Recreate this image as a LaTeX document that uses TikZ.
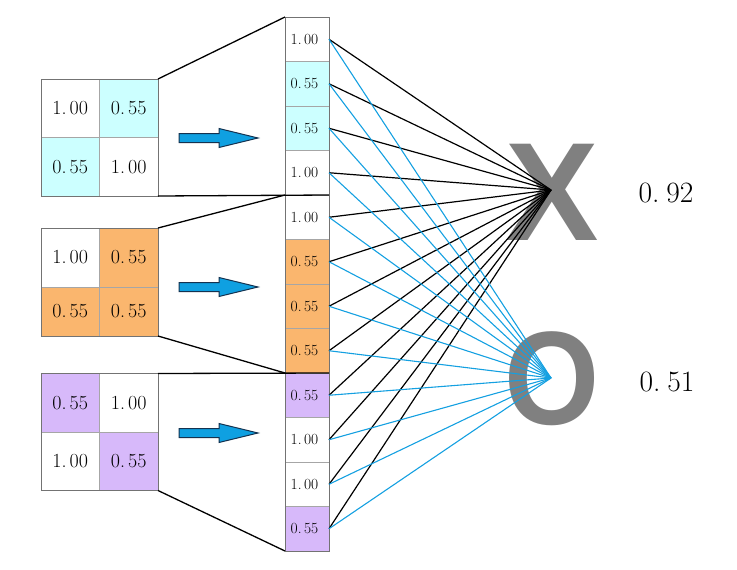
\documentclass[tikz,border=0pt]{standalone}
\usepackage{fontspec}
\newfontfamily\letterfont{Liberation Sans}
\definecolor{cyanc}{RGB}{204,255,255}
\definecolor{orangec}{RGB}{250,182,110}
\definecolor{purplec}{RGB}{215,185,250}
\definecolor{lineblue}{RGB}{20,160,225}
\definecolor{arrowblue}{RGB}{15,160,225}
\definecolor{arrowedge}{RGB}{20,50,80}
\definecolor{lettergray}{RGB}{128,128,128}
\begin{document}
\begin{tikzpicture}[x=1pt,y=-1pt,
  mcell/.style={draw=gray!70, inner sep=0pt, outer sep=0pt, minimum width=58.5pt, minimum height=58.5pt, font=\fontsize{20}{20}\selectfont},
  ccell/.style={draw=gray!70, inner sep=0pt, outer sep=0pt, minimum width=44pt, minimum height=44.5pt, font=\fontsize{15.5}{15.5}\selectfont},
  frame/.style={draw=gray!90!black, line width=0.8pt},
  trap/.style={draw=black, line width=1.3pt},
  blk/.style={draw=black, line width=1.2pt},
  blu/.style={draw=lineblue, line width=1.1pt},
  barrow/.style={fill=arrowblue, draw=arrowedge, line width=1pt, line join=miter},
  letter/.style={text=lettergray, inner sep=0pt, outer sep=0pt, font=\letterfont\bfseries\fontsize{140}{140}\selectfont},
  outlbl/.style={inner sep=0pt, font=\fontsize{29.5}{29.5}\selectfont}
]
\useasboundingbox (0,0) rectangle (737,570);
\newcommand\one{1.\kern3pt00}
\newcommand\ff{0.\kern3pt55}
\newcommand\sone{\kern-5pt1.\kern2.5pt00}
\newcommand\sff{\kern-5pt0.\kern2.5pt55}

% letters
\node[letter] (X) at (552,192) {X};
\node[letter, font=\letterfont\bfseries\fontsize{133}{133}\selectfont] (O) at (552,379) {\scalebox{0.92}[1]{O}};
\coordinate (xc) at (551,190);
\coordinate (oc) at (551,378);

% top matrix
\node[mcell] (m1a) at (70.25,108.25) {\one};
\node[mcell, fill=cyanc] (m1b) at (128.75,108.25) {\ff};
\node[mcell, fill=cyanc] (m1c) at (70.25,166.75) {\ff};
\node[mcell] (m1d) at (128.75,166.75) {\one};
\draw[frame] (m1a.north west) rectangle (m1d.south east);

% middle matrix
\node[mcell, minimum height=59pt] (m2a) at (70.25,257.5) {\one};
\node[mcell, minimum height=59pt, fill=orangec] (m2b) at (128.75,257.5) {\ff};
\node[mcell, minimum height=49pt, fill=orangec] (m2c) at (70.25,311.5) {\ff};
\node[mcell, minimum height=49pt, fill=orangec] (m2d) at (128.75,311.5) {\ff};
\draw[frame] (m2a.north west) rectangle (m2d.south east);

% bottom matrix
\node[mcell, fill=purplec] (m3a) at (70.25,402.75) {\ff};
\node[mcell] (m3b) at (128.75,402.75) {\one};
\node[mcell] (m3c) at (70.25,461.25) {\one};
\node[mcell, fill=purplec] (m3d) at (128.75,461.25) {\ff};
\draw[frame] (m3a.north west) rectangle (m3d.south east);

% column
\node[ccell] (c1) at (307,39.25) {\sone};
\node[ccell, fill=cyanc] (c2) at (307,83.75) {\sff};
\node[ccell, fill=cyanc] (c3) at (307,128.25) {\sff};
\node[ccell] (c4) at (307,172.75) {\sone};
\node[ccell] (c5) at (307,217.25) {\sone};
\node[ccell, fill=orangec] (c6) at (307,261.75) {\sff};
\node[ccell, fill=orangec] (c7) at (307,306.25) {\sff};
\node[ccell, fill=orangec] (c8) at (307,350.75) {\sff};
\node[ccell, fill=purplec] (c9) at (307,395.25) {\sff};
\node[ccell] (c10) at (307,439.75) {\sone};
\node[ccell] (c11) at (307,484.25) {\sone};
\node[ccell, fill=purplec] (c12) at (307,528.75) {\sff};
\draw[frame] (c1.north west) rectangle (c12.south east);

% funnel lines
\draw[trap] (m1b.north east) -- (c1.north west);
\draw[trap] (m1d.south east) -- (c4.south east);
\draw[trap] (m2b.north east) -- (c5.north west);
\draw[trap] (m2d.south east) -- (c8.south west);
\draw[trap] (m3b.north east) -- (c9.north east);
\draw[trap] (m3d.south east) -- (c12.south west);

% block arrows
\foreach \yy in {138,287,433} {
  \draw[barrow] (179,\yy-4.5) -- (219,\yy-4.5) -- (219,\yy-9.5) -- (258,\yy)
    -- (219,\yy+9.5) -- (219,\yy+4.5) -- (179,\yy+4.5) -- cycle;
}

% connections
\foreach \i in {1,...,12} {
  \draw[blk] (c\i.east) -- (xc);
}
\foreach \i in {1,...,12} {
  \draw[blu] (c\i.east) -- (oc);
}

% outputs
\node[outlbl] (vx) at (666,193) {0.\kern7pt92};
\node[outlbl] (vo) at (667,382) {0.\kern7pt51};
\end{tikzpicture}
\end{document}
